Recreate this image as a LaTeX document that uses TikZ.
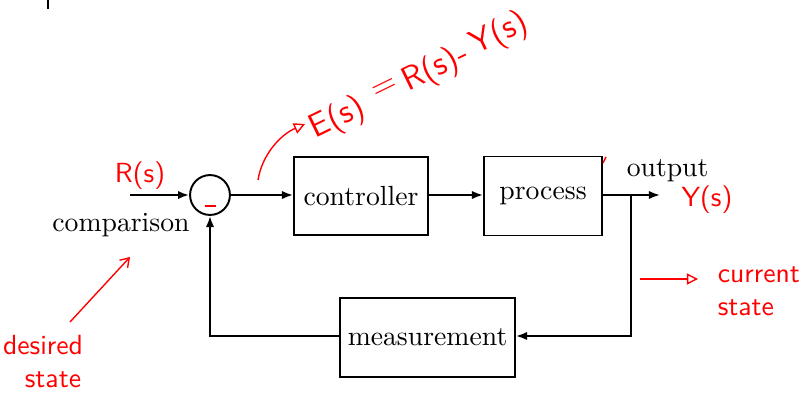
\documentclass[tikz,border=0pt]{standalone}
\usetikzlibrary{arrows.meta,positioning}
\begin{document}
\begin{tikzpicture}[x=0.361pt,y=-0.361pt,
  blk/.style={draw,line width=0.7pt,inner sep=0pt,font=\normalsize},
  sig/.style={line width=0.7pt,-{Latex[length=4pt,width=3pt]}},
  hand/.style={red,font=\sffamily},
  eq/.style={red,font=\sffamily\large,rotate=26,inner sep=0pt},
  handarrow/.style={red,line width=0.5pt}]
\useasboundingbox (0,0) rectangle (803,394);
% cut-off mark at top
\draw[line width=0.7pt] (48,0) -- (48,9);
% blocks
\node[blk,circle,minimum size=14.4pt] (cmp) at (210,195) {};
\node[blk,minimum width=134*0.361pt,minimum height=78*0.361pt] (ctrl) at (361,196) {controller};
\node[blk,minimum width=118*0.361pt,minimum height=79*0.361pt] (proc) at (543,196) {process};
\node[blk,minimum width=175*0.361pt,minimum height=79*0.361pt] (meas) at (427.5,337.5) {measurement};
\node (cmplab) at (121,225) {comparison};
\node[anchor=west] (outlab) at (617,171) {output};
% coordinates
\coordinate (in) at (130,195);
\coordinate (out) at (660,195);
\coordinate (br) at (631,195);
\coordinate (brd) at (631,336);
\coordinate (fbl) at (210,336);
% connectors
\draw[sig] (in) -- (cmp.west);
\draw[sig] (cmp.east) -- (cmp.east -| ctrl.west);
\draw[sig] (ctrl.east |- cmp.east) -- (ctrl.east |- cmp.east -| proc.west);
\draw[sig] (proc.east |- out) -- (out);
\draw[sig] (br) -- (brd) -- (meas.east |- brd);
\draw[sig] (meas.west |- brd) -- (fbl) -- (cmp.south);
% red annotations
\draw[red,line width=0.8pt] (205,206) -- (216,206);
\node[hand] (rs) at (140,176) {R(s)};
\node[eq] (es1) at (338,119) {E(s)};
\node[eq] (eseq) at (385,89) {=};
\node[eq] (es2) at (436,69) {R(s)-};
\node[eq] (es3) at (500,34) {Y(s)};
\coordinate (ea) at (258,180);
\coordinate (eb) at (305,124);
\draw[handarrow,-{Triangle[open,length=4pt,width=4pt]}] (ea) .. controls (262,155) and (280,135) .. (eb);
\node[hand] (ys) at (707,200) {Y(s)};
\coordinate (ca) at (640,279);
\coordinate (cb) at (698,279);
\draw[handarrow,-{Triangle[open,length=4pt,width=4pt]}] (ca) -- (cb);
\node[hand,anchor=west,align=left] (cs) at (708,291) {current\\state};
\node[hand] (ds1) at (43,345) {desired};
\node[hand] (ds2) at (53,380) {state};
\coordinate (da) at (70,322);
\coordinate (db) at (130,257);
\draw[handarrow,-{Straight Barb[length=3pt,width=4pt]}] (da) -- (db);
\draw[red,line width=0.5pt] (603,163) -- (606,157);
\end{tikzpicture}
\end{document}
